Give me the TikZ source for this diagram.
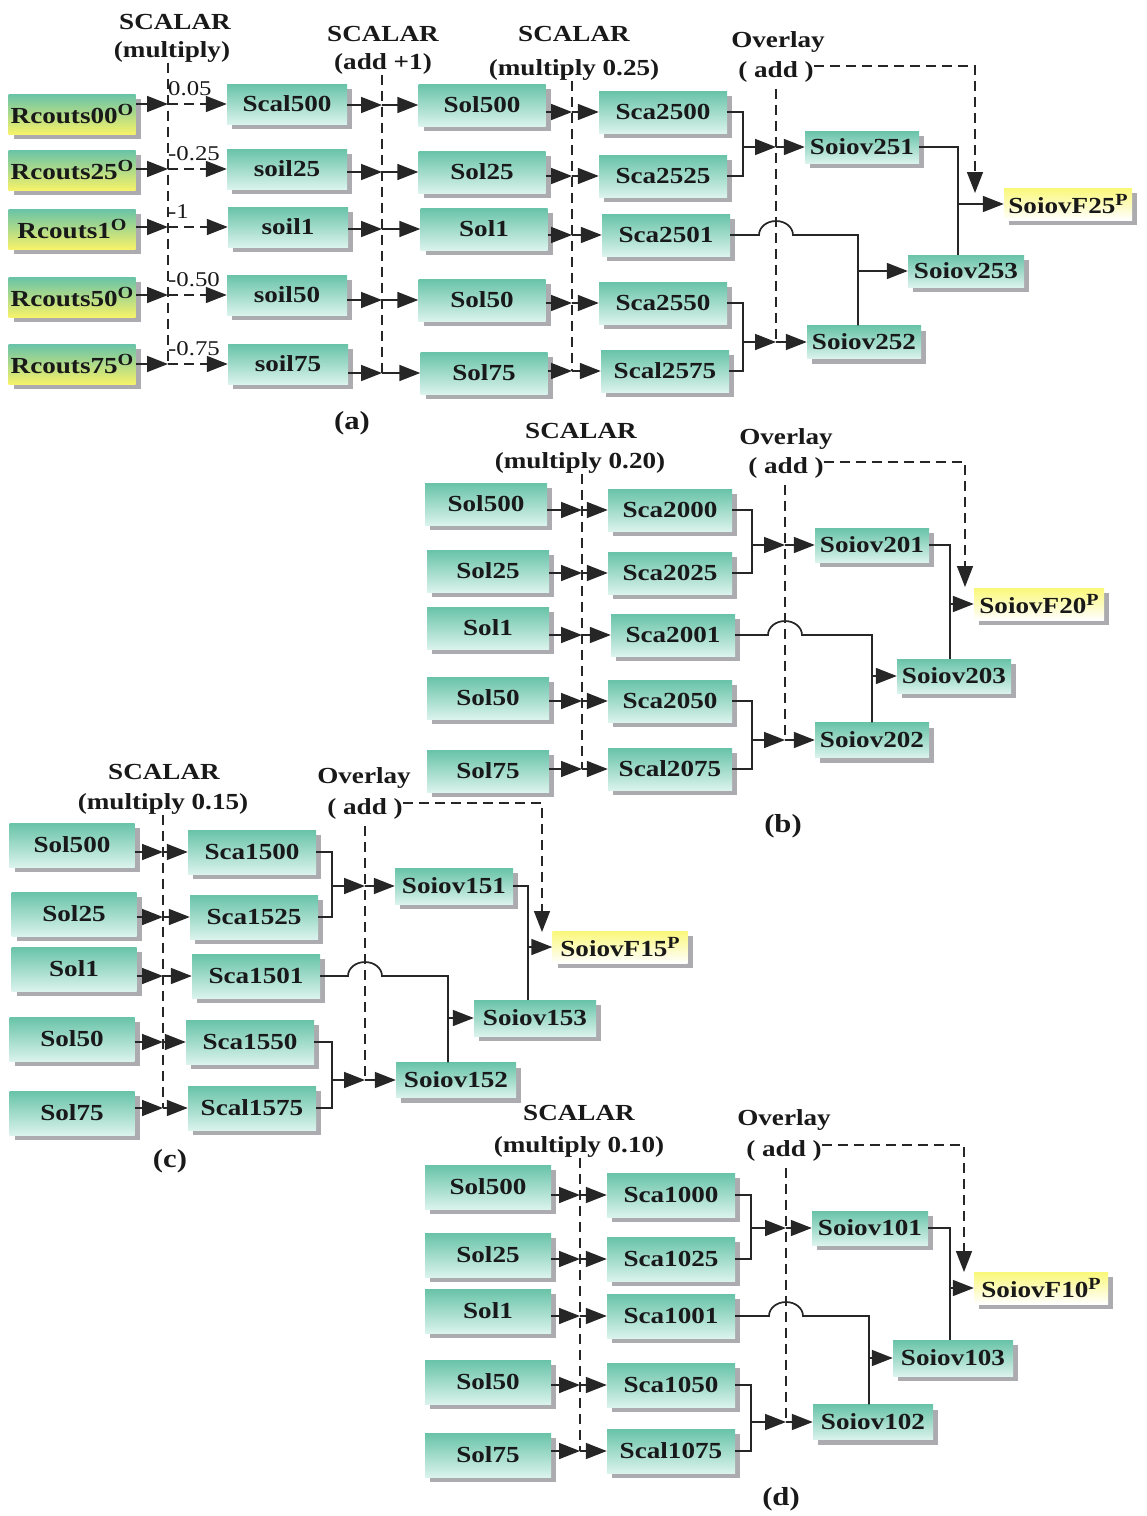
\documentclass[tikz,border=0pt]{standalone}
\usepackage{fontspec}
\setmainfont{Liberation Serif}[FakeStretch=1.18]
\usetikzlibrary{arrows.meta,shadows,calc}

\definecolor{tealtop}{RGB}{104,195,168}
\definecolor{tealbot}{RGB}{218,243,236}
\definecolor{inyel}{RGB}{246,242,105}
\definecolor{outyel}{RGB}{250,248,120}
\definecolor{boxshadow}{RGB}{172,172,176}

\tikzset{
  boxbase/.style={inner sep=0pt, text=black!90, font=\bfseries\fontsize{23}{25}\selectfont,
    drop shadow={shadow xshift=5pt, shadow yshift=-5pt, fill=boxshadow, opacity=1}},
  proc/.style 2 args={boxbase, top color=tealtop, bottom color=tealbot,
    minimum width=#1pt, minimum height=#2pt},
  src/.style 2 args={boxbase, top color=tealtop, bottom color=inyel,
    minimum width=#1pt, minimum height=#2pt},
  res/.style 2 args={boxbase, top color=outyel, bottom color=white,
    minimum width=#1pt, minimum height=#2pt},
  title/.style={inner sep=0pt, text=black!90, font=\bfseries\fontsize{23}{25}\selectfont},
  coef/.style={inner sep=0pt, anchor=south west, text=black!90, font=\fontsize{21}{24}\selectfont},
  caplbl/.style={inner sep=0pt, text=black!90, font=\bfseries\fontsize{26}{28}\selectfont},
  conn/.style={line width=1.7pt, draw=black!85},
  arr/.style={-{Triangle[length=21pt,width=16pt]}},
  dline/.style={line width=1.5pt, draw=black!85, dash pattern=on 10pt off 6pt}
}

% raised mark after a data-set name
\newcommand{\hisup}[1]{\raisebox{8pt}{\fontsize{17}{18}\selectfont #1}}

% an arrow into a dashed operator line and on to the next box
\newcommand{\passthru}[3]{%
  \draw[conn,arr] (#1.east |- #2.west) -- (#3 |- #2.west);
  \draw[conn,arr] (#3 |- #2.west) -- (#2.west);}

% the overlay stage of one panel (prefix #1)
\newcommand{\overlaystage}[1]{%
  \draw[conn] (#1T1.east) -| (#1M |- #1T2.east) -- (#1T2.east);
  \draw[conn,arr] (#1M |- #1O1.west) -- (#1D4 |- #1O1.west);
  \draw[conn,arr] (#1D4 |- #1O1.west) -- (#1O1.west);
  \draw[conn] (#1T4.east) -| (#1M |- #1T5.east) -- (#1T5.east);
  \draw[conn,arr] (#1M |- #1O2.west) -- (#1D4 |- #1O2.west);
  \draw[conn,arr] (#1D4 |- #1O2.west) -- (#1O2.west);
  \draw[conn] (#1T3.east) -- ($(#1D4 |- #1T3.east)+(-17,0)$)
    arc[start angle=180,end angle=0,x radius=17pt,y radius=14pt]
    -| (#1K |- #1O2.north);
  \draw[conn,arr] (#1K |- #1O3.west) -- (#1O3.west);
  \draw[conn] (#1O1.east) -| (#1J |- #1O3.north);
  \draw[conn,arr] (#1J |- #1F.west) -- (#1F.west);
  \draw[dline] ($(#1D4 |- #1H4b.south)+(0,6)$) -- (#1D4 |- #1O2.west);
  \draw[dline,arr] ([yshift=6pt]#1H4b.east) -| (#1V);}

\begin{document}
\begin{tikzpicture}[x=1pt,y=-1pt]
\useasboundingbox (0,0) rectangle (1147,1516);

% ================= panel (a) =================
\node[title] (aH1)  at (175,22) {SCALAR};
\node[title] (aH1b) at (172,52) {(multiply)};
\node[title] (aH2)  at (383,34) {SCALAR};
\node[title] (aH2b) at (383,64) {(add +1)};
\node[title] (aH3)  at (574,34) {SCALAR};
\node[title] (aH3b) at (574,70) {(multiply 0.25)};
\node[title] (aH4)  at (778,42) {Overlay};
\node[title] (aH4b) at (776,72) {( add )};

\node[src={127}{40}] (aR1) at (72,114) {Rcouts00\hisup{O}};
\node[src={127}{40}] (aR2) at (72,170) {Rcouts25\hisup{O}};
\node[src={127}{40}] (aR3) at (72,229) {Rcouts1\hisup{O}};
\node[src={127}{40}] (aR4) at (72,297) {Rcouts50\hisup{O}};
\node[src={127}{40}] (aR5) at (72,364) {Rcouts75\hisup{O}};

\node[proc={120}{40}] (aC1) at (287,104) {Scal500};
\node[proc={120}{40}] (aC2) at (287,169) {soil25};
\node[proc={120}{40}] (aC3) at (288,227) {soil1};
\node[proc={120}{40}] (aC4) at (287,295) {soil50};
\node[proc={120}{40}] (aC5) at (288,364) {soil75};

\node[proc={127}{42}] (aS1) at (482,105) {Sol500};
\node[proc={127}{42}] (aS2) at (482,172) {Sol25};
\node[proc={127}{42}] (aS3) at (484,229) {Sol1};
\node[proc={127}{42}] (aS4) at (482,300) {Sol50};
\node[proc={127}{42}] (aS5) at (484,373) {Sol75};

\node[proc={128}{42}] (aT1) at (663,112) {Sca2500};
\node[proc={128}{42}] (aT2) at (663,176) {Sca2525};
\node[proc={128}{42}] (aT3) at (666,235) {Sca2501};
\node[proc={128}{42}] (aT4) at (663,303) {Sca2550};
\node[proc={128}{42}] (aT5) at (665,371) {Scal2575};

\node[proc={114}{32}] (aO1) at (862,147) {Soiov251};
\node[proc={114}{33}] (aO2) at (864,342) {Soiov252};
\node[proc={116}{32}] (aO3) at (966,271) {Soiov253};
\node[res={128}{32}]  (aF)  at (1068,204) {SoiovF25\hisup{P}};

\node[caplbl] (aCap) at (352,423) {(a)};

\coordinate (aD1) at (168,0);
\coordinate (aD2) at (382,0);
\coordinate (aD3) at (572,0);
\coordinate (aD4) at (776,0);
\coordinate (aM)  at (743,0);
\coordinate (aK)  at (858,0);
\coordinate (aJ)  at (958,0);
\coordinate (aV)  at (975,193);

\draw[dline] (aD1 |- aH1b.south) -- (aD1 |- aC5.west);
\draw[dline] (aD2 |- aH2b.south) -- (aD2 |- aS5.west);
\draw[dline] (aD3 |- aH3b.south) -- (aD3 |- aT5.west);

\foreach \i/\lab in {1/0.05, 2/-0.25, 3/-1, 4/-0.50, 5/-0.75} {
  \draw[conn,arr] (aR\i.east |- aC\i.west) -- (aD1 |- aC\i.west);
  \draw[conn,arr,dash pattern=on 10pt off 6pt] (aD1 |- aC\i.west) -- (aC\i.west);
  \node[coef] (aL\i) at ($(aD1 |- aC\i.west)+(0,-8)$) {\lab};
}
\foreach \i in {1,...,5} {
  \passthru{aC\i}{aS\i}{aD2}
  \passthru{aS\i}{aT\i}{aD3}
}
\overlaystage{a}

% ================= panel (b) =================
\node[title] (bH1)  at (581,431) {SCALAR};
\node[title] (bH1b) at (580,463) {(multiply 0.20)};
\node[title] (bH4)  at (786,439) {Overlay};
\node[title] (bH4b) at (786,468) {( add )};

\node[proc={122}{42}] (bS1) at (486,504) {Sol500};
\node[proc={122}{42}] (bS2) at (488,571) {Sol25};
\node[proc={122}{42}] (bS3) at (488,628) {Sol1};
\node[proc={122}{42}] (bS4) at (488,698) {Sol50};
\node[proc={122}{42}] (bS5) at (488,771) {Sol75};

\node[proc={124}{42}] (bT1) at (670,510) {Sca2000};
\node[proc={124}{42}] (bT2) at (670,573) {Sca2025};
\node[proc={124}{42}] (bT3) at (673,635) {Sca2001};
\node[proc={124}{42}] (bT4) at (670,701) {Sca2050};
\node[proc={124}{42}] (bT5) at (670,769) {Scal2075};

\node[proc={114}{34}] (bO1) at (872,545) {Soiov201};
\node[proc={114}{35}] (bO2) at (872,740) {Soiov202};
\node[proc={114}{34}] (bO3) at (954,676) {Soiov203};
\node[res={130}{32}]  (bF)  at (1039,604) {SoiovF20\hisup{P}};

\node[caplbl] (bCap) at (783,826) {(b)};

\coordinate (bD1) at (582,0);
\coordinate (bD4) at (785,0);
\coordinate (bM)  at (752,0);
\coordinate (bK)  at (872,0);
\coordinate (bJ)  at (950,0);
\coordinate (bV)  at (965,587);

\draw[dline] (bD1 |- bH1b.south) -- (bD1 |- bT5.west);
\foreach \i in {1,...,5} { \passthru{bS\i}{bT\i}{bD1} }
\overlaystage{b}

% ================= panel (c) =================
\node[title] (cH1)  at (164,772) {SCALAR};
\node[title] (cH1b) at (163,804) {(multiply 0.15)};
\node[title] (cH4)  at (364,778) {Overlay};
\node[title] (cH4b) at (365,809) {( add )};

\node[proc={125}{44}] (cS1) at (72,845) {Sol500};
\node[proc={125}{44}] (cS2) at (74,914) {Sol25};
\node[proc={125}{44}] (cS3) at (74,969) {Sol1};
\node[proc={125}{44}] (cS4) at (72,1039) {Sol50};
\node[proc={125}{44}] (cS5) at (72,1113) {Sol75};

\node[proc={128}{44}] (cT1) at (252,852) {Sca1500};
\node[proc={128}{44}] (cT2) at (254,917) {Sca1525};
\node[proc={128}{44}] (cT3) at (256,976) {Sca1501};
\node[proc={128}{44}] (cT4) at (250,1042) {Sca1550};
\node[proc={128}{44}] (cT5) at (252,1108) {Scal1575};

\node[proc={118}{36}] (cO1) at (454,886) {Soiov151};
\node[proc={120}{35}] (cO2) at (456,1080) {Soiov152};
\node[proc={122}{36}] (cO3) at (535,1018) {Soiov153};
\node[res={135}{32}]  (cF)  at (620,947) {SoiovF15\hisup{P}};

\node[caplbl] (cCap) at (170,1161) {(c)};

\coordinate (cD1) at (163,0);
\coordinate (cD4) at (365,0);
\coordinate (cM)  at (332,0);
\coordinate (cK)  at (448,0);
\coordinate (cJ)  at (528,0);
\coordinate (cV)  at (542,932);

\draw[dline] (cD1 |- cH1b.south) -- (cD1 |- cT5.west);
\foreach \i in {1,...,5} { \passthru{cS\i}{cT\i}{cD1} }
\overlaystage{c}

% ================= panel (d) =================
\node[title] (dH1)  at (579,1113) {SCALAR};
\node[title] (dH1b) at (579,1147) {(multiply 0.10)};
\node[title] (dH4)  at (784,1120) {Overlay};
\node[title] (dH4b) at (784,1151) {( add )};

\node[proc={126}{44}] (dS1) at (488,1187) {Sol500};
\node[proc={126}{44}] (dS2) at (488,1255) {Sol25};
\node[proc={126}{44}] (dS3) at (488,1311) {Sol1};
\node[proc={126}{44}] (dS4) at (488,1382) {Sol50};
\node[proc={126}{44}] (dS5) at (488,1455) {Sol75};

\node[proc={128}{44}] (dT1) at (671,1195) {Sca1000};
\node[proc={128}{44}] (dT2) at (671,1259) {Sca1025};
\node[proc={128}{44}] (dT3) at (671,1316) {Sca1001};
\node[proc={128}{44}] (dT4) at (671,1385) {Sca1050};
\node[proc={128}{44}] (dT5) at (671,1451) {Scal1075};

\node[proc={116}{34}] (dO1) at (870,1228) {Soiov101};
\node[proc={120}{35}] (dO2) at (873,1422) {Soiov102};
\node[proc={120}{36}] (dO3) at (953,1358) {Soiov103};
\node[res={134}{32}]  (dF)  at (1041,1288) {SoiovF10\hisup{P}};

\node[caplbl] (dCap) at (781,1499) {(d)};

\coordinate (dD1) at (580,0);
\coordinate (dD4) at (786,0);
\coordinate (dM)  at (751,0);
\coordinate (dK)  at (869,0);
\coordinate (dJ)  at (950,0);
\coordinate (dV)  at (964,1272);

\draw[dline] (dD1 |- dH1b.south) -- (dD1 |- dT5.west);
\foreach \i in {1,...,5} { \passthru{dS\i}{dT\i}{dD1} }
\overlaystage{d}

\end{tikzpicture}
\end{document}
